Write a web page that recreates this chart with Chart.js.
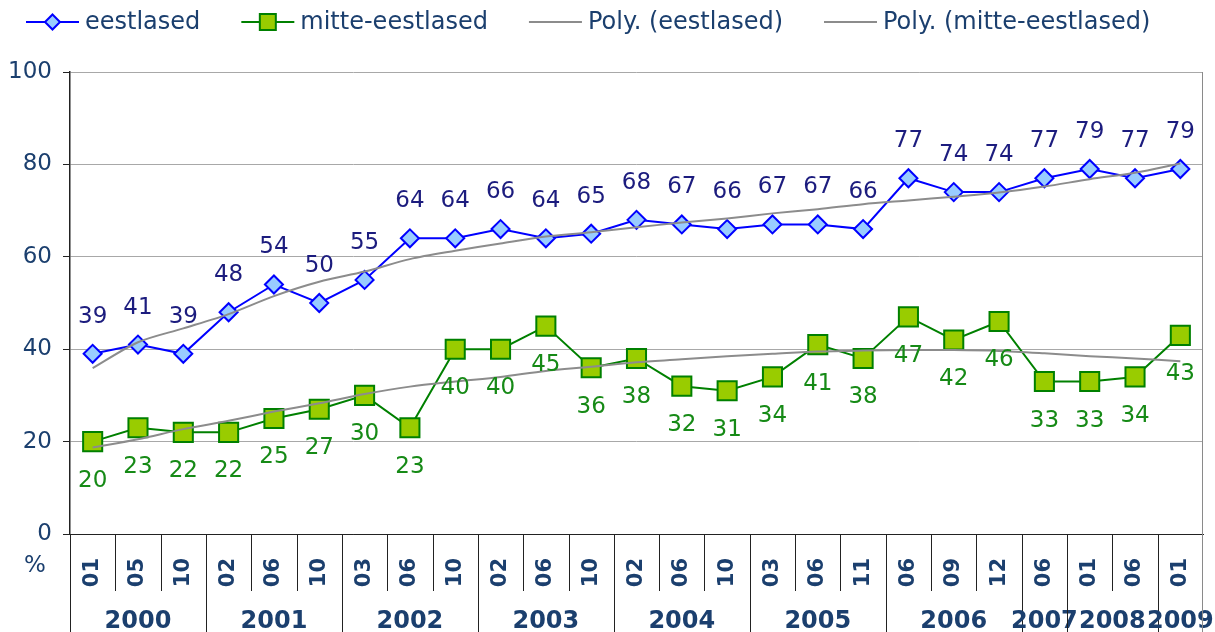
<!DOCTYPE html>
<html>
<head>
<meta charset="utf-8">
<script src="https://cdn.jsdelivr.net/npm/chart.js@4.4.0/dist/chart.umd.min.js"></script>
<style>
  html, body { margin: 0; padding: 0; background: #fff; }
  #wrap { width: 1215px; height: 632px; position: relative; }
</style>
</head>
<body>
<div id="wrap"><canvas id="trendChart"></canvas></div>
<script>
// Survey points: month of survey, grouped by year
const months = ['01', '05', '10', '02', '06', '10', '03', '06', '10', '02', '06', '10', '02',
  '06', '10', '03', '06', '11', '06', '09', '12', '06', '01', '06', '01'];
const years = ['2000', '2001', '2002', '2003', '2004', '2005', '2006', '2007', '2008', '2009'];
const yearSpans = [3, 3, 3, 3, 3, 3, 3, 1, 2, 1];

const eestlased = [39, 41, 39, 48, 54, 50, 55, 64, 64, 66, 64, 65, 68, 67, 66, 67, 67, 66, 77, 74, 74, 77, 79, 77, 79];
const mitteEestlased = [20, 23, 22, 22, 25, 27, 30, 23, 40, 40, 45, 36, 38, 32, 31, 34, 41, 38, 47, 42, 46, 33, 33, 34, 43];

// trendlines
const polyEestlased = [35.9, 41.5, 44.5, 47.6, 51.5, 54.6, 56.8, 59.5, 61.3, 62.9, 64.4, 65.3, 66.4,
  67.4, 68.3, 69.4, 70.3, 71.4, 72.2, 73.0, 73.9, 75.2, 76.8, 78.2, 80.2];
const polyMitte = [18.7, 20.5, 22.7, 24.5, 26.5, 28.3, 30.3, 31.9, 33.0, 34.0, 35.3, 36.2, 37.2,
  37.8, 38.5, 39.0, 39.5, 39.7, 39.8, 39.8, 39.6, 39.1, 38.5, 38.0, 37.4];

const yTicks = [0, 20, 40, 60, 80, 100];

const FONT = "'DejaVu Sans', Verdana, sans-serif";
const TEXT_COLOR = '#1b3f6e';

function drawMarker(ctx, style, x, y, r) {
  ctx.beginPath();
  if (style === 'rectRot') {
    ctx.moveTo(x, y - r);
    ctx.lineTo(x + r, y);
    ctx.lineTo(x, y + r);
    ctx.lineTo(x - r, y);
    ctx.closePath();
  } else {
    ctx.rect(x - r, y - r, 2 * r, 2 * r);
  }
  ctx.fill();
  ctx.stroke();
}

// Legend across the top: line sample with marker, then text
const topLegend = {
  id: 'topLegend',
  afterDraw(chart) {
    const ctx = chart.ctx;
    const y = 22;
    let x = 26;
    ctx.save();
    ctx.font = `24px ${FONT}`;
    ctx.textBaseline = 'middle';
    chart.data.datasets.forEach(ds => {
      ctx.strokeStyle = ds.borderColor;
      ctx.lineWidth = 2;
      ctx.beginPath();
      ctx.moveTo(x, y);
      ctx.lineTo(x + 53, y);
      ctx.stroke();
      if (ds.pointRadius > 0) {
        ctx.fillStyle = ds.pointBackgroundColor;
        ctx.strokeStyle = ds.pointBorderColor;
        drawMarker(ctx, ds.pointStyle, x + 26.5, y, ds.pointStyle === 'rectRot' ? 7.5 : 8);
      }
      ctx.fillStyle = TEXT_COLOR;
      ctx.fillText(ds.label, x + 59, y + 1);
      x += 59 + ctx.measureText(ds.label).width + 41;
    });
    ctx.restore();
  }
};

// Value labels: above the blue points, below the green ones
const pointLabels = {
  id: 'pointLabels',
  afterDatasetsDraw(chart) {
    const ctx = chart.ctx;
    ctx.save();
    ctx.font = `23px ${FONT}`;
    ctx.textAlign = 'center';
    ctx.textBaseline = 'middle';
    [[0, -37, '#1c1c7e'], [1, 39, '#168a16']].forEach(([i, dy, color]) => {
      const meta = chart.getDatasetMeta(i);
      const values = chart.data.datasets[i].data;
      ctx.fillStyle = color;
      meta.data.forEach((pt, j) => ctx.fillText(values[j], pt.x, pt.y + dy));
    });
    ctx.restore();
  }
};

// Month separators, year row and the % unit under the axis
const categoryAxis = {
  id: 'categoryAxis',
  afterDraw(chart) {
    const { ctx, chartArea } = chart;
    const xs = chart.scales.x;
    const half = (xs.getPixelForValue(1) - xs.getPixelForValue(0)) / 2;
    const bottom = chart.height;
    const vline = (px, y0, y1) => {
      px = Math.round(px) + 0.5;
      ctx.beginPath();
      ctx.moveTo(px, y0);
      ctx.lineTo(px, y1);
      ctx.stroke();
    };
    ctx.save();
    ctx.lineWidth = 1;
    ctx.strokeStyle = '#222';
    for (let i = 1; i < months.length; i++) {
      vline(xs.getPixelForValue(i) - half, chartArea.bottom, chartArea.bottom + 57);
    }
    ctx.font = `bold 24px ${FONT}`;
    ctx.fillStyle = TEXT_COLOR;
    ctx.textAlign = 'center';
    ctx.textBaseline = 'middle';
    let start = 0;
    years.forEach((yr, k) => {
      const end = start + yearSpans[k];
      const x0 = xs.getPixelForValue(start) - half;
      const x1 = xs.getPixelForValue(end - 1) + half;
      if (k > 0) vline(x0, chartArea.bottom, bottom);
      ctx.fillText(yr, (x0 + x1) / 2, chartArea.bottom + 88);
      start = end;
    });
    vline(chartArea.left - 0.5, chartArea.bottom, bottom);
    ctx.strokeStyle = '#8a8a8a';
    vline(chartArea.right - 1, chartArea.top, bottom);
    ctx.font = `23px ${FONT}`;
    ctx.fillText('%', 35, 566);
    ctx.restore();
  }
};

new Chart(document.getElementById('trendChart'), {
  type: 'line',
  data: {
    labels: months,
    datasets: [{
      label: 'eestlased',
      data: eestlased,
      borderColor: '#0000ff',
      borderWidth: 2,
      pointStyle: 'rectRot',
      pointRadius: 9,
      pointBackgroundColor: '#99ccff',
      pointBorderColor: '#0000ff',
      pointBorderWidth: 2,
      order: 1
    }, {
      label: 'mitte-eestlased',
      data: mitteEestlased,
      borderColor: '#008000',
      borderWidth: 2,
      pointStyle: 'rect',
      pointRadius: 13.5,
      pointBackgroundColor: '#99cc00',
      pointBorderColor: '#008000',
      pointBorderWidth: 2,
      order: 1
    }, {
      label: 'Poly. (eestlased)',
      data: polyEestlased,
      borderColor: '#8c8c8c',
      borderWidth: 2,
      pointRadius: 0,
      tension: 0.3,
      order: 0
    }, {
      label: 'Poly. (mitte-eestlased)',
      data: polyMitte,
      borderColor: '#8c8c8c',
      borderWidth: 2,
      pointRadius: 0,
      tension: 0.3,
      order: 0
    }]
  },
  options: {
    responsive: true,
    maintainAspectRatio: false,
    animation: false,
    events: [],
    layout: {
      autoPadding: false,
      padding: { top: 72, right: 12, left: 0, bottom: 0 }
    },
    scales: {
      x: {
        offset: true,
        afterFit: scale => {
          scale.height = 98;
          scale.paddingLeft = 0;
          scale.paddingRight = 0;
        },
        grid: { display: false, drawTicks: false },
        border: { display: true, color: '#222', width: 1 },
        ticks: {
          autoSkip: false,
          minRotation: 90,
          maxRotation: 90,
          padding: 24,
          color: TEXT_COLOR,
          font: { family: FONT, size: 21, weight: 'bold' }
        }
      },
      y: {
        min: 0,
        max: 100,
        afterBuildTicks: scale => { scale.ticks = yTicks.map(v => ({ value: v })); },
        afterFit: scale => {
          scale.width = 70;
          scale.paddingTop = 0;
          scale.paddingBottom = 0;
        },
        grid: {
          color: ctx => ctx.tick && ctx.tick.value === 0 ? '#222' : '#a8a8a8',
          tickColor: '#222',
          tickLength: 7
        },
        border: { color: '#222', width: 1.5 },
        ticks: {
          padding: 11,
          color: TEXT_COLOR,
          font: { family: FONT, size: 23 }
        }
      }
    },
    plugins: {
      legend: { display: false },
      tooltip: { enabled: false }
    }
  },
  plugins: [pointLabels, categoryAxis, topLegend]
});
</script>
</body>
</html>
